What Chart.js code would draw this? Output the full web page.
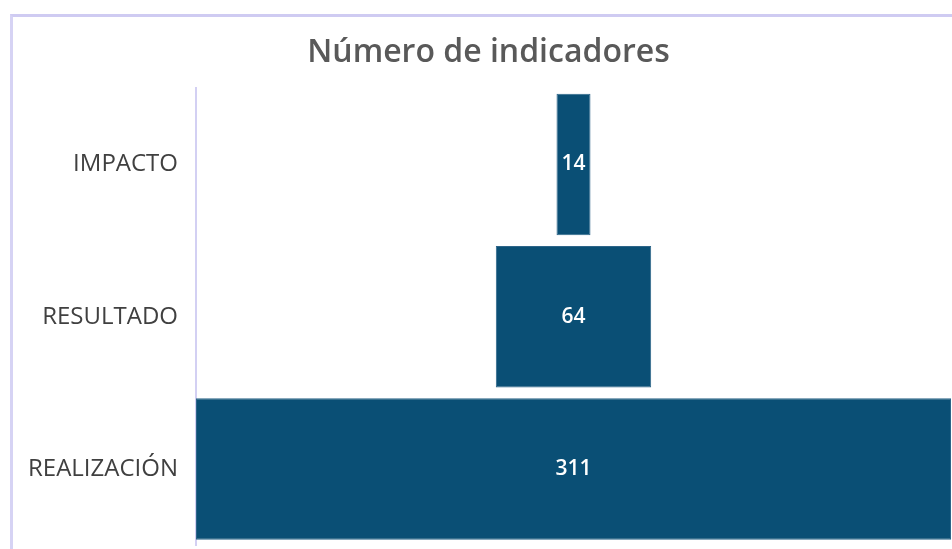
<!DOCTYPE html>
<html>
<head>
<meta charset="utf-8">
<script src="https://cdn.jsdelivr.net/npm/chart.js@4/dist/chart.umd.min.js"></script>
<style>
  html, body { margin: 0; padding: 0; background: #fff; overflow: hidden; }
  #wrap { position: relative; width: 952px; height: 549px; overflow: hidden; }
  #frame {
    position: absolute; left: 10px; top: 14px; width: 960px; height: 560px;
    border-top: 3px solid #cfcbf2; border-left: 3px solid #d6d3f4;
  }
  #box { position: absolute; left: 0; top: 0; width: 952px; height: 549px; }
</style>
</head>
<body>
<div id="wrap">
  <div id="frame"></div>
  <div id="box"><canvas id="chartCanvas"></canvas></div>
</div>
<script>
const categories = ['IMPACTO', 'RESULTADO', 'REALIZACIÓN'];
const values = [14, 64, 311];
const chartTitle = 'Número de indicadores';

const maxVal = Math.max(...values);

// funnel: each bar floats around zero so it stays centred
const floating = values.map(v => [-v / 2, v / 2]);

const valueLabels = {
  id: 'valueLabels',
  afterDatasetsDraw(chart) {
    const ctx = chart.ctx;
    const meta = chart.getDatasetMeta(0);
    ctx.save();
    ctx.fillStyle = '#ffffff';
    ctx.font = '600 21px "Open Sans", sans-serif';
    ctx.textAlign = 'center';
    ctx.textBaseline = 'middle';
    meta.data.forEach((bar, i) => {
      const p = bar.getProps(['x', 'base', 'y'], true);
      ctx.fillText(values[i], (p.x + p.base) / 2, p.y);
    });
    ctx.restore();
  }
};

const ctx = document.getElementById('chartCanvas').getContext('2d');
new Chart(ctx, {
  type: 'bar',
  data: {
    labels: categories,
    datasets: [{
      data: floating,
      backgroundColor: '#0a4f75',
      borderColor: '#2d6589',
      borderWidth: 1,
      borderSkipped: false,
      categoryPercentage: 0.93,
      barPercentage: 1
    }]
  },
  options: {
    indexAxis: 'y',
    responsive: true,
    maintainAspectRatio: false,
    animation: false,
    layout: { padding: { left: 26, right: 1, top: 0, bottom: 4 } },
    plugins: {
      legend: { display: false },
      tooltip: { enabled: false },
      title: {
        display: true,
        text: chartTitle,
        color: '#595959',
        font: { family: '"Open Sans", sans-serif', size: 32, weight: '600' },
        padding: { top: 34, bottom: 16 }
      }
    },
    scales: {
      x: {
        display: false,
        min: -maxVal / 2,
        max: maxVal / 2
      },
      y: {
        grid: { display: false },
        border: { display: true, color: '#d3d0f3', width: 2 },
        afterFit(axis) {
          axis.width = 170;
          axis.paddingTop = 0;
          axis.paddingBottom = 0;
        },
        ticks: {
          color: '#404040',
          padding: 10,
          font: { family: '"Open Sans", sans-serif', size: 24 }
        }
      }
    }
  },
  plugins: [valueLabels]
});
</script>
</body>
</html>
